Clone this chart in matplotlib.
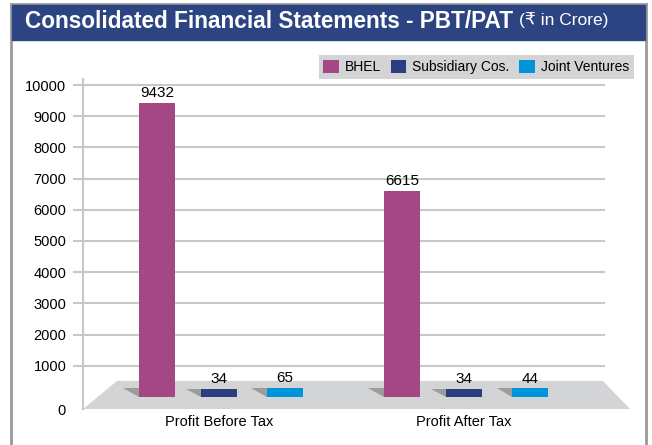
import matplotlib.pyplot as plt
from matplotlib.patches import Polygon, Rectangle
from matplotlib.lines import Line2D

# data
categories = ['Profit Before Tax', 'Profit After Tax']
series = ['BHEL', 'Subsidiary Cos.', 'Joint Ventures']
bhel = [9432, 6615]
subsidiary = [34, 34]
joint_ventures = [65, 44]
yticks = [1000, 2000, 3000, 4000, 5000, 6000, 7000, 8000, 9000, 10000]

colors = ['#A34785', '#2B3F7E', '#0095D9']
plt.rcParams['font.family'] = ['Liberation Sans', 'DejaVu Sans']

W, H = 652, 445
fig = plt.figure(figsize=(W / 100, H / 100), dpi=100)

def fx(px):
    return px / W

def fy(py):
    return 1 - py / H

# frame + title banner
fig.add_artist(Line2D([fx(11), fx(11)], [0, fy(4)], color='#9a9a9a', lw=2, zorder=-1))
fig.add_artist(Line2D([fx(646), fx(646)], [0, fy(4)], color='#9a9a9a', lw=2, zorder=-1))
fig.add_artist(Line2D([fx(11), fx(646)], [fy(4), fy(4)], color='#9a9a9a', lw=2, zorder=-1))
fig.add_artist(Rectangle((fx(12), fy(40)), fx(645) - fx(12), fy(5) - fy(40),
                         transform=fig.transFigure, color='#2C4482', zorder=-1))
fig.text(fx(25), fy(21), 'Consolidated Financial Statements - PBT/PAT',
         color='white', fontsize=16.3, fontweight='bold', va='center', ha='left')
fig.text(fx(519), fy(20), '(\u20b9 in Crore)', color='white', fontsize=12.5,
         va='center', ha='left', family=['Liberation Sans', 'DejaVu Sans'])

# plot area: y axis at x=83px, zero at 397px, 31.2 px per 1000
ymin, ymax = -386, 10200
ax = fig.add_axes([fx(83), fy(409), fx(605) - fx(83), fy(78.8) - fy(409)])
ax.set_ylim(ymin, ymax)
ax.set_xlim(-0.555, 1.5755)

for s in ['top', 'right', 'bottom']:
    ax.spines[s].set_visible(False)
ax.spines['left'].set_color('#c8c8c8')
ax.spines['left'].set_linewidth(1.5)
ax.set_yticks(yticks)
ax.set_yticklabels([str(v) for v in yticks])
ax.tick_params(axis='y', length=7, width=1.5, color='#c8c8c8', pad=5, labelsize=10.5)
ax.set_xticks([])
ax.yaxis.grid(True, color='#c8c8c8', lw=1.5)
ax.set_axisbelow(True)
ax.text(-0.033, -449, '0', transform=ax.get_yaxis_transform(), ha='right', va='center',
        fontsize=10.5)

# floor
floor = Polygon([(-0.416, 514), (1.567, 514), (1.678, ymin), (-0.555, ymin)],
                closed=True, facecolor='#D3D4D6', edgecolor='none', zorder=2, clip_on=False)
ax.add_patch(floor)

offsets = [-0.253, 0, 0.269]
width = 0.147
depth = 230  # visible 3D depth of the bars
handles = []
for k, (name, vals) in enumerate(zip(series, [bhel, subsidiary, joint_ventures])):
    xs = [i + offsets[k] for i in range(len(categories))]
    heights = [v + depth if v < 1000 else v for v in vals]
    b = ax.bar(xs, heights, width=width, color=colors[k], zorder=4, label=name)
    handles.append(b)
    for x, h, v in zip(xs, heights, vals):
        d = min(h, 290)
        left = x - width / 2
        w = 0.065 * d / 290
        ax.add_patch(Polygon([(left - w, d), (left, d), (left, 0)], closed=True,
                             facecolor='#9C9C9C', edgecolor='none', zorder=3))
        ax.text(x, h + 90, str(v), ha='center', va='bottom', fontsize=11, zorder=5)

for i, cat in enumerate(categories):
    ax.text(i, -810, cat, ha='center', va='center', fontsize=10.5, clip_on=False)

leg = fig.legend(handles=handles, labels=series, loc='upper right',
                 bbox_to_anchor=(fx(641), fy(48)), ncol=3, frameon=True,
                 fontsize=10, handlelength=1.1, handleheight=1.1,
                 handletextpad=0.45, columnspacing=0.7, borderpad=0.35,
                 fancybox=False)
leg.get_frame().set_facecolor('#D4D4D6')
leg.get_frame().set_edgecolor('none')
leg.get_frame().set_alpha(1)

plt.savefig('out.png', dpi=100)
